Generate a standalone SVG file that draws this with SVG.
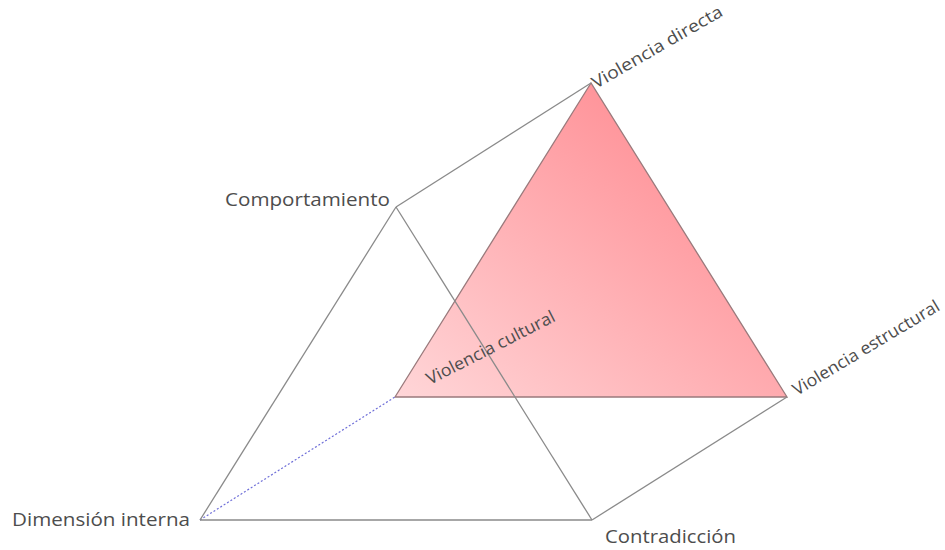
<svg xmlns="http://www.w3.org/2000/svg" width="945" height="550" viewBox="0 0 945 550">
<style>
.edge{fill:none;stroke:#8a8a8a;stroke-width:1.3}
.lbl{font-family:"Open Sans","Liberation Sans",sans-serif;font-size:17.5px;fill:#4d4d4d}
.rlbl{font-family:"Open Sans","Liberation Sans",sans-serif;font-size:17px;fill:#4d4d4d}
</style>
<defs>
<linearGradient id="red" x1="0" y1="1" x2="1" y2="0">
<stop offset="0" stop-color="#ffd6d8"/>
<stop offset="1" stop-color="#ff7f86"/>
</linearGradient>
</defs>
<rect width="945" height="550" fill="#ffffff"/>
<g id="back-triangle">
<polygon points="591,83 395,397 787,397" fill="url(#red)" stroke="#9a7a7c" stroke-width="1.3"/>
</g>
<g id="connectors">
<line class="edge" x1="396" y1="207" x2="591" y2="83"/>
<line class="edge" x1="592" y1="520" x2="787" y2="397"/>
<line x1="200" y1="520" x2="395" y2="397" stroke="#6f6fd8" stroke-width="1.2" stroke-dasharray="2,2"/>
<line class="edge" x1="200" y1="520" x2="396" y2="207"/>
<line class="edge" x1="396" y1="207" x2="592" y2="520"/>
<line class="edge" x1="200" y1="520" x2="592" y2="520"/>
</g>
<g id="dimension-interna"><text class="lbl" x="12" y="526" textLength="178" lengthAdjust="spacingAndGlyphs">Dimensión interna</text></g>
<g id="comportamiento"><text class="lbl" x="225" y="206" textLength="165" lengthAdjust="spacingAndGlyphs">Comportamiento</text></g>
<g id="contradiccion"><text class="lbl" x="605" y="543" textLength="131" lengthAdjust="spacingAndGlyphs">Contradicción</text></g>
<g id="violencia-directa"><text class="rlbl" transform="translate(596,89) rotate(-30)" textLength="148" lengthAdjust="spacingAndGlyphs">Violencia directa</text></g>
<g id="violencia-estructural"><text class="rlbl" transform="translate(797,396) rotate(-31)" textLength="168" lengthAdjust="spacingAndGlyphs">Violencia estructural</text></g>
<g id="violencia-cultural"><text class="rlbl" transform="translate(430,385) rotate(-27)" textLength="142" lengthAdjust="spacingAndGlyphs">Violencia cultural</text></g>
</svg>
